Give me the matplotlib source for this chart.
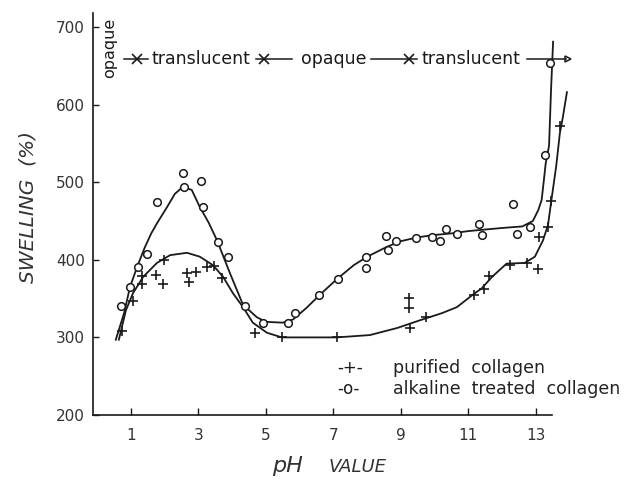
import matplotlib
matplotlib.use("Agg")
import matplotlib.pyplot as plt
from matplotlib.lines import Line2D

# ---- data ----
alk_ph = [0.70, 0.97, 1.21, 1.47, 1.77, 2.54, 2.57, 3.07, 3.13, 3.58, 3.87, 4.38, 4.91,
          5.65, 5.86, 6.57, 7.13, 7.96, 7.96, 8.56, 8.61, 8.85, 9.44, 9.92, 10.16, 10.33,
          10.66, 11.31, 11.40, 12.32, 12.44, 12.82, 13.27, 13.41]
alk_sw = [340, 365, 391, 407, 474, 512, 494, 502, 468, 423, 404, 340, 319,
          319, 331, 355, 375, 403, 389, 431, 413, 424, 428, 429, 424, 440,
          433, 446, 432, 472, 433, 442, 535, 654]

pur_ph = [0.74, 1.07, 1.32, 1.33, 1.73, 1.96, 1.98, 2.65, 2.73, 2.93, 3.24, 3.46, 3.70,
          4.67, 5.47, 7.10, 9.24, 9.24, 9.27, 9.74, 11.16, 11.46, 11.61, 12.23, 12.73,
          13.06, 13.09, 13.36, 13.44, 13.70]
pur_sw = [308, 347, 379, 369, 381, 369, 400, 383, 372, 384, 391, 392, 376,
          306, 301, 301, 351, 338, 312, 326, 355, 362, 379, 393, 396,
          388, 429, 442, 476, 572]

alk_curve_ph = [0.55, 0.80, 0.97, 1.20, 1.41, 1.60, 1.77, 2.07, 2.30, 2.54, 2.80, 3.04,
                3.30, 3.55, 3.93, 4.32, 4.73, 5.00, 5.50, 5.80, 6.20, 6.60, 7.10, 7.60,
                8.00, 8.60, 9.00, 9.50, 10.00, 10.50, 11.00, 11.50, 12.00, 12.60, 12.91,
                13.07, 13.17, 13.23, 13.29, 13.39, 13.45, 13.51]
alk_curve_sw = [297, 332, 365, 393, 416, 434, 447, 468, 485, 494, 490, 468,
                448, 425, 383, 342, 326, 320, 319, 323, 338, 355, 375, 393,
                404, 417, 424, 429, 432, 434, 437, 439, 441, 443, 450,
                464, 477, 500, 524, 547, 620, 681]

pur_curve_ph = [0.64, 0.85, 1.06, 1.36, 1.77, 2.16, 2.66, 3.04, 3.43, 3.73, 4.02, 4.32,
                4.61, 5.03, 5.47, 6.00, 7.10, 8.08, 8.88, 9.56, 10.20, 10.66, 11.13,
                11.39, 11.70, 12.13, 12.67, 12.97, 13.21, 13.36, 13.46, 13.60, 13.71,
                13.80, 13.92]
pur_curve_sw = [297, 335, 357, 378, 396, 406, 409, 404, 393, 378, 357, 339,
                319, 306, 300, 300, 300, 303, 312, 322, 331, 339, 355,
                363, 378, 395, 396, 404, 425, 445, 477, 520, 563,
                584, 616]

x_ticks = [1, 3, 5, 7, 9, 11, 13]
y_ticks = [200, 300, 400, 500, 600, 700]

INK = "#1a1a1a"
W, H = 635, 482

fig = plt.figure(figsize=(W / 100, H / 100), dpi=100)
# axes: left spine at x=93 px, bottom at y=415 px
ax = fig.add_axes([93 / W, (H - 415) / H, (600 - 93) / W, (415 - 13) / H])
ax.set_xlim(-0.126, 14.90)
ax.set_ylim(200, 718)

for s in ["top", "right"]:
    ax.spines[s].set_visible(False)
ax.spines["left"].set_color(INK)
ax.spines["bottom"].set_color(INK)
ax.spines["left"].set_linewidth(1.2)
ax.spines["bottom"].set_linewidth(1.2)
ax.spines["bottom"].set_bounds(-0.126, 13.47)

ax.set_xticks(x_ticks)
ax.set_yticks(y_ticks)
ax.tick_params(axis="x", direction="in", length=5, width=1, colors=INK,
               labelsize=11, pad=9, labelcolor="#333333")
ax.tick_params(axis="y", direction="in", length=4, width=1, colors=INK,
               labelsize=11, pad=6, labelcolor="#333333")

# curves
ax.plot(alk_curve_ph, alk_curve_sw, color=INK, lw=1.3, clip_on=False, zorder=2)
ax.plot(pur_curve_ph, pur_curve_sw, color=INK, lw=1.3, clip_on=False, zorder=2)
# points
ax.plot(alk_ph, alk_sw, ls="none", marker="o", ms=5.5, mfc="white", mec=INK,
        mew=1.1, clip_on=False, zorder=3)
ax.plot(pur_ph, pur_sw, ls="none", marker="+", ms=7, mec=INK, mew=1.2,
        clip_on=False, zorder=3)

# axis labels
fig.text(28 / W, 1 - 207 / H, "SWELLING  (%)", rotation=90, ha="center",
         va="center", fontsize=14.5, style="italic", color="#333333")
fig.text(287 / W, 1 - 466 / H, "pH", ha="center", va="center", fontsize=16,
         style="italic", color="#333333")
fig.text(358 / W, 1 - 467 / H, "VALUE", ha="center", va="center", fontsize=13,
         style="italic", color="#333333")

# legend (hand-drawn style)
fig.text(337 / W, 1 - 368 / H, "-+-", ha="left", va="center", fontsize=12, color=INK)
fig.text(393 / W, 1 - 368 / H, "purified  collagen", ha="left", va="center",
         fontsize=12.5, color="#222222")
fig.text(337 / W, 1 - 389 / H, "-o-", ha="left", va="center", fontsize=12, color=INK)
fig.text(393 / W, 1 - 389 / H, "alkaline  treated  collagen", ha="left",
         va="center", fontsize=12.5, color="#222222")

# top annotation row (pixel-positioned)
def px(x, y):
    return (x / W, 1 - y / H)

ry = 59
for (x0, x1) in [(124, 148), (256, 292), (371, 417), (527, 566)]:
    fig.add_artist(Line2D([x0 / W, x1 / W], [1 - ry / H, 1 - ry / H],
                          color=INK, lw=1.1))
for xm in [136.5, 264, 409]:
    fig.add_artist(Line2D([xm / W], [1 - ry / H], marker="x", ms=7, mew=1.2,
                          color=INK, ls="none"))
fig.add_artist(Line2D([568 / W], [1 - ry / H], marker=">", ms=5, mfc="none",
                      mec=INK, mew=1.1, ls="none"))
fig.text(*px(152, ry), "translucent", ha="left", va="center", fontsize=12.5, color=INK)
fig.text(*px(301, ry), "opaque", ha="left", va="center", fontsize=12.5, color=INK)
fig.text(*px(421, ry), "translucent", ha="left", va="center", fontsize=12.5, color=INK)
fig.text(*px(110, 48), "opaque", rotation=90, ha="center", va="center",
         fontsize=11.5, color=INK)

fig.savefig("out.png", dpi=100, facecolor="white")
